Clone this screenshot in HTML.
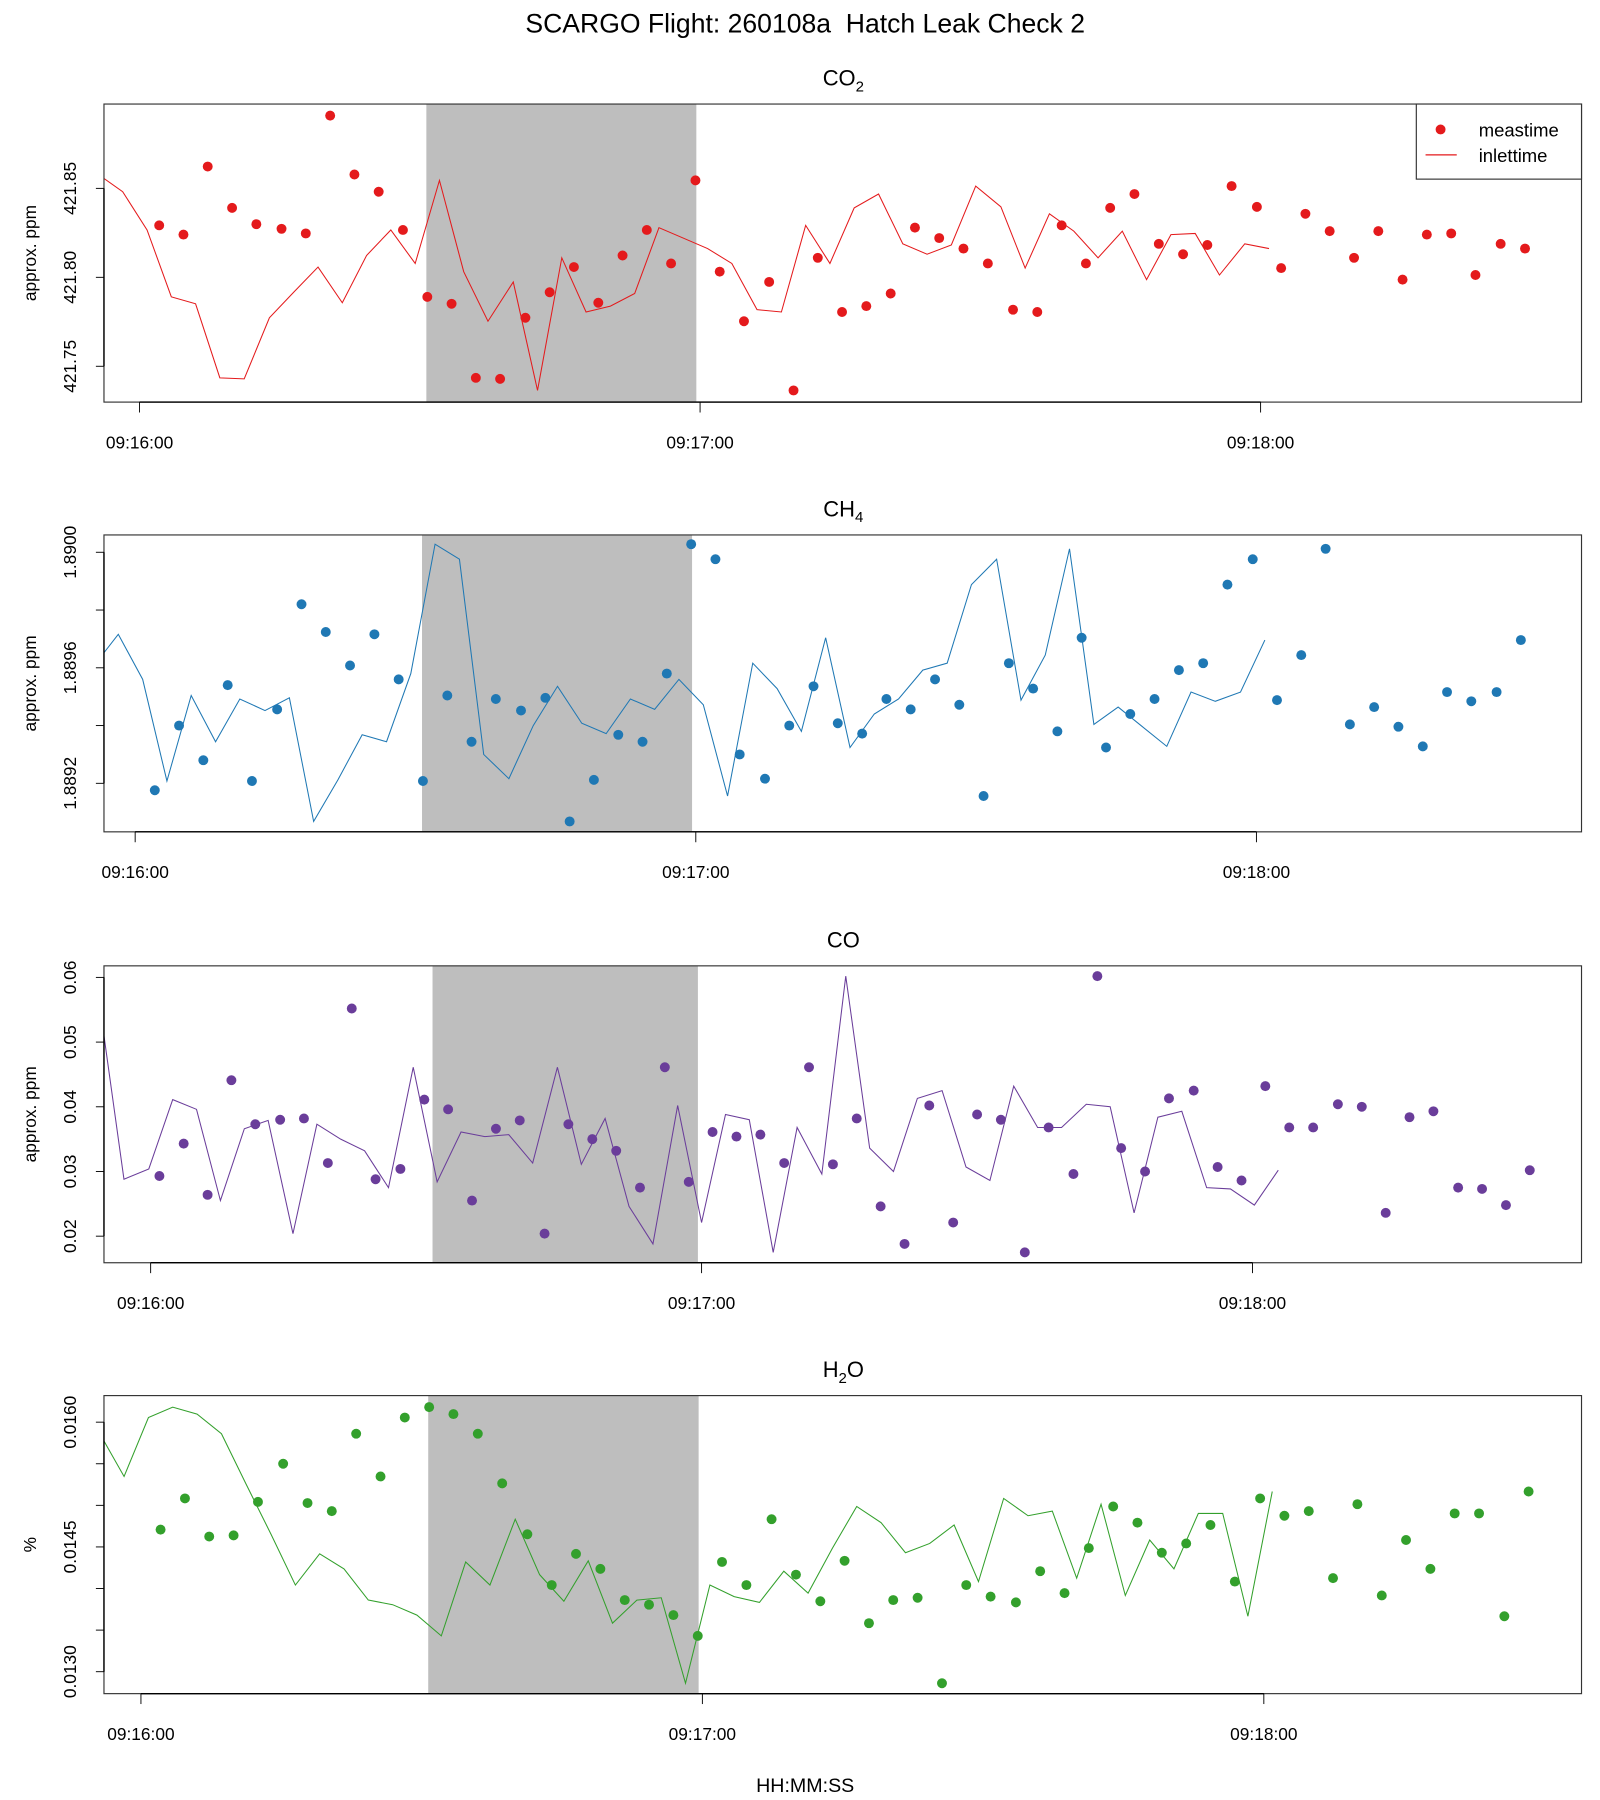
<!DOCTYPE html>
<html><head><meta charset="utf-8"><style>
html,body{margin:0;padding:0;background:#fff;}
svg{display:block;font-family:"Liberation Sans",sans-serif;}
</style></head><body>
<svg id="chart" width="1600" height="1800" viewBox="0 0 1385 1558" xmlns="http://www.w3.org/2000/svg">
<rect x="0" y="0" width="1385" height="1558" fill="#fff"/>
<text x="697" y="28" font-size="23" text-anchor="middle">SCARGO Flight: 260108a&#160; Hatch Leak Check 2</text>
<text x="697" y="1551" font-size="17" text-anchor="middle">HH:MM:SS</text>
<g id="panels"></g>
</svg>
<script>
// ---- data ----
const measT = [2.1,4.7,7.3,9.9,12.5,15.2,17.8,20.4,23.0,25.6,28.2,30.8,33.4,36.0,38.6,41.3,43.9,46.5,49.1,51.7,54.3,56.9,59.5,62.1,64.7,67.4,70.0,72.6,75.2,77.8,80.4,83.0,85.6,88.2,90.8,93.5,96.1,98.7,101.3,103.9,106.5,109.1,111.7,114.3,116.9,119.6,122.2,124.8,127.4,130.0,132.6,135.2,137.8,140.4,143.0,145.7,148.3];
const coT = [0.96,3.6,6.2,8.8,11.4,14.1,16.7,19.3,21.9,24.5,27.2,29.8,32.4,35.0,37.6,40.2,42.9,45.5,48.1,50.7,53.3,56.0,58.6,61.2,63.8,66.4,69.0,71.7,74.3,76.9,79.5,82.1,84.8,87.4,90.0,92.6,95.2,97.8,100.5,103.1,105.7,108.3,110.9,113.6,116.2,118.8,121.4,124.0,126.6,129.3,131.9,134.5,137.1,139.7,142.4,145.0,147.6,150.2];
const co2V = [421.8292,421.8240,421.8623,421.8390,421.8299,421.8273,421.8247,421.8909,421.8578,421.8481,421.8266,421.7890,421.7851,421.7435,421.7429,421.7773,421.7916,421.8058,421.7857,421.8123,421.8266,421.8078,421.8545,421.8032,421.7753,421.7974,421.7364,421.8110,421.7805,421.7838,421.7909,421.8279,421.8221,421.8162,421.8078,421.7818,421.7805,421.8292,421.8078,421.8390,421.8468,421.8188,421.8130,421.8182,421.8513,421.8396,421.8052,421.8357,421.8260,421.8110,421.8260,421.7987,421.8240,421.8247,421.8013,421.8188,421.8162];
const ch4V = [1.889176,1.889400,1.889280,1.889540,1.889208,1.889456,1.889820,1.889724,1.889608,1.889716,1.889560,1.889208,1.889504,1.889344,1.889492,1.889452,1.889496,1.889068,1.889212,1.889368,1.889344,1.889580,1.890028,1.889976,1.889300,1.889216,1.889400,1.889536,1.889408,1.889372,1.889492,1.889456,1.889560,1.889472,1.889156,1.889616,1.889528,1.889380,1.889704,1.889324,1.889440,1.889492,1.889592,1.889616,1.889888,1.889976,1.889488,1.889644,1.890012,1.889404,1.889464,1.889396,1.889328,1.889516,1.889484,1.889516,1.889696];
const coV = [0.0293,0.0343,0.0264,0.0441,0.0373,0.0380,0.0382,0.0313,0.0552,0.0288,0.0304,0.0411,0.0396,0.0255,0.0366,0.0379,0.0204,0.0373,0.0350,0.0332,0.0275,0.0461,0.0284,0.0361,0.0354,0.0357,0.0313,0.0461,0.0311,0.0382,0.0246,0.0188,0.0402,0.0221,0.0388,0.0380,0.0175,0.0368,0.0296,0.0602,0.0336,0.0300,0.0413,0.0425,0.0307,0.0286,0.0432,0.0368,0.0368,0.0404,0.0400,0.0236,0.0384,0.0393,0.0275,0.0273,0.0248,0.0302];
const h2oV = [0.014708,0.015083,0.014625,0.014639,0.015042,0.015500,0.015028,0.014931,0.015861,0.015347,0.016056,0.016181,0.016097,0.015861,0.015264,0.014653,0.014042,0.014417,0.014236,0.013861,0.013806,0.013681,0.013431,0.014319,0.014042,0.014833,0.014167,0.013847,0.014333,0.013583,0.013861,0.013889,0.012861,0.014042,0.013903,0.013833,0.014208,0.013944,0.014486,0.014986,0.014792,0.014431,0.014542,0.014764,0.014083,0.015083,0.014875,0.014931,0.014125,0.015014,0.013917,0.014583,0.014236,0.014903,0.014903,0.013667,0.015167];
const inletLag = 27.4;
const shadeRange = [30.7, 59.6];
const xTickSec = [0, 60, 120];
const xTickLabels = ["09:16:00","09:17:00","09:18:00"];
const co2Ticks = [421.75, 421.80, 421.85];
const co2TickLabels = ["421.75","421.80","421.85"];
const ch4Ticks = [1.8892, 1.8894, 1.8896, 1.8898, 1.8900];
const ch4TickLabels = ["1.8892","","1.8896","","1.8900"];
const coTicks = [0.02, 0.03, 0.04, 0.05, 0.06];
const coTickLabels = ["0.02","0.03","0.04","0.05","0.06"];
const h2oTicks = [0.0130, 0.0135, 0.0140, 0.0145, 0.0150, 0.0155, 0.0160];
const h2oTickLabels = ["0.0130","","","0.0145","","","0.0160"];

// ---- layout ----
const NS = "http://www.w3.org/2000/svg";
const root = document.getElementById('panels');
function mk(tag, attrs, parent){ const e=document.createElementNS(NS,tag); for(const k in attrs) e.setAttribute(k,attrs[k]); (parent||root).appendChild(e); return e; }

const panels = [
 {key:'co2', title:'CO', sub:'2', tail:'', color:'#e41a1c', T:measT, V:co2V, ticks:co2Ticks, tl:co2TickLabels, ylab:'approx. ppm',
  top:90, bot:348, x0:120.8, x60:606, ya:[421.80,240], yb:[421.85,163], legend:true},
 {key:'ch4', title:'CH', sub:'4', tail:'', color:'#1f78b4', T:measT, V:ch4V, ticks:ch4Ticks, tl:ch4TickLabels, ylab:'approx. ppm',
  top:463, bot:720, x0:117, x60:602.3, ya:[1.8896,578], yb:[1.8900,478]},
 {key:'co', title:'CO', sub:'', tail:'', color:'#6a3d9a', T:coT, V:coV, ticks:coTicks, tl:coTickLabels, ylab:'approx. ppm',
  top:836, bot:1093, x0:130.4, x60:607.3, ya:[0.02,1070], yb:[0.06,846]},
 {key:'h2o', title:'H', sub:'2', tail:'O', color:'#33a02c', T:measT, V:h2oV, ticks:h2oTicks, tl:h2oTickLabels, ylab:'%',
  top:1208, bot:1466, x0:122, x60:608, ya:[0.0130,1447], yb:[0.0160,1231]}
];
const L=90, R=1369;

panels.forEach((p,pi)=>{
  const g = mk('g',{});
  
  
  const xs = t => p.x0 + t*(p.x60-p.x0)/60;
  const ys = v => p.ya[1] + (v-p.ya[0])*(p.yb[1]-p.ya[1])/(p.yb[0]-p.ya[0]);
  const cp = mk('clipPath',{id:'clip'+pi},g);
  mk('rect',{x:L,y:p.top,width:R-L,height:p.bot-p.top},cp);
  const sh = mk('rect',{x:xs(shadeRange[0]),y:p.top,width:xs(shadeRange[1])-xs(shadeRange[0]),height:p.bot-p.top,fill:'#bebebe'},g);
  
  
  let d='';
  p.T.forEach((t,i)=>{ d += (i?'L':'M')+xs(t-inletLag).toFixed(1)+' '+ys(p.V[i]).toFixed(1); });
  const ln = mk('path',{d:d,fill:'none',stroke:p.color,'stroke-width':0.9,'clip-path':'url(#clip'+pi+')'},g);
  
  
  p.T.forEach((t,i)=>{
    const c = mk('circle',{cx:xs(t).toFixed(1),cy:ys(p.V[i]).toFixed(1),r:4.3,fill:p.color},g);
    
    
  });
  const bx = mk('rect',{x:L,y:p.top,width:R-L,height:p.bot-p.top,fill:'none',stroke:'#333','stroke-width':1},g);
  
  
  mk('line',{x1:xs(xTickSec[0]),x2:xs(xTickSec[xTickSec.length-1]),y1:p.bot,y2:p.bot,stroke:'#000','stroke-width':1.2},g);
  xTickSec.forEach((s,i)=>{
    mk('line',{x1:xs(s),x2:xs(s),y1:p.bot,y2:p.bot+9,stroke:'#000','stroke-width':0.8},g);
    const tx = mk('text',{x:xs(s),y:p.bot+40,'font-size':15,'text-anchor':'middle'},g);
    tx.textContent = xTickLabels[i];
    
    
  });
  const yl = ys(p.ticks[0]), yh = ys(p.ticks[p.ticks.length-1]);
  mk('line',{x1:L,x2:L,y1:yl,y2:yh,stroke:'#000','stroke-width':1.2},g);
  p.ticks.forEach((v,i)=>{
    const y = ys(v);
    mk('line',{x1:L-7,x2:L,y1:y,y2:y,stroke:'#000','stroke-width':0.8},g);
    if(p.tl[i]){
      const tx = mk('text',{x:66,y:y,'font-size':15,'text-anchor':'middle',transform:'rotate(-90 66 '+y+')'},g);
      tx.textContent = p.tl[i];
      
      
    }
  });
  const cy = (p.top+p.bot)/2;
  const yt = mk('text',{x:31,y:cy,'font-size':15,'text-anchor':'middle',transform:'rotate(-90 31 '+cy+')'},g);
  yt.textContent = p.ylab;
  
  
  const tt = mk('text',{x:730,y:p.top-16,'font-size':19,'text-anchor':'middle'},g);
  
  
  tt.appendChild(document.createTextNode(p.title));
  if(p.sub){ const s=mk('tspan',{'font-size':13,dy:5},tt); s.textContent=p.sub; }
  if(p.tail){ const s=mk('tspan',{dy:-5},tt); s.textContent=p.tail; }
  if(p.legend){
    const lg = mk('g',{},g);
    
    
    mk('rect',{x:1226,y:90,width:143,height:65,fill:'#fff',stroke:'#333','stroke-width':1},lg);
    const e1 = mk('g',{},lg);
    
    
    mk('circle',{cx:1247,cy:112,r:4.3,fill:p.color},e1);
    const t1 = mk('text',{x:1280,y:118,'font-size':16},e1); t1.textContent='meastime';
    const e2 = mk('g',{},lg);
    
    
    mk('line',{x1:1234,x2:1261,y1:134,y2:134,stroke:p.color,'stroke-width':1},e2);
    const t2 = mk('text',{x:1280,y:140,'font-size':16},e2); t2.textContent='inlettime';
  }
});
</script>
</body></html>
